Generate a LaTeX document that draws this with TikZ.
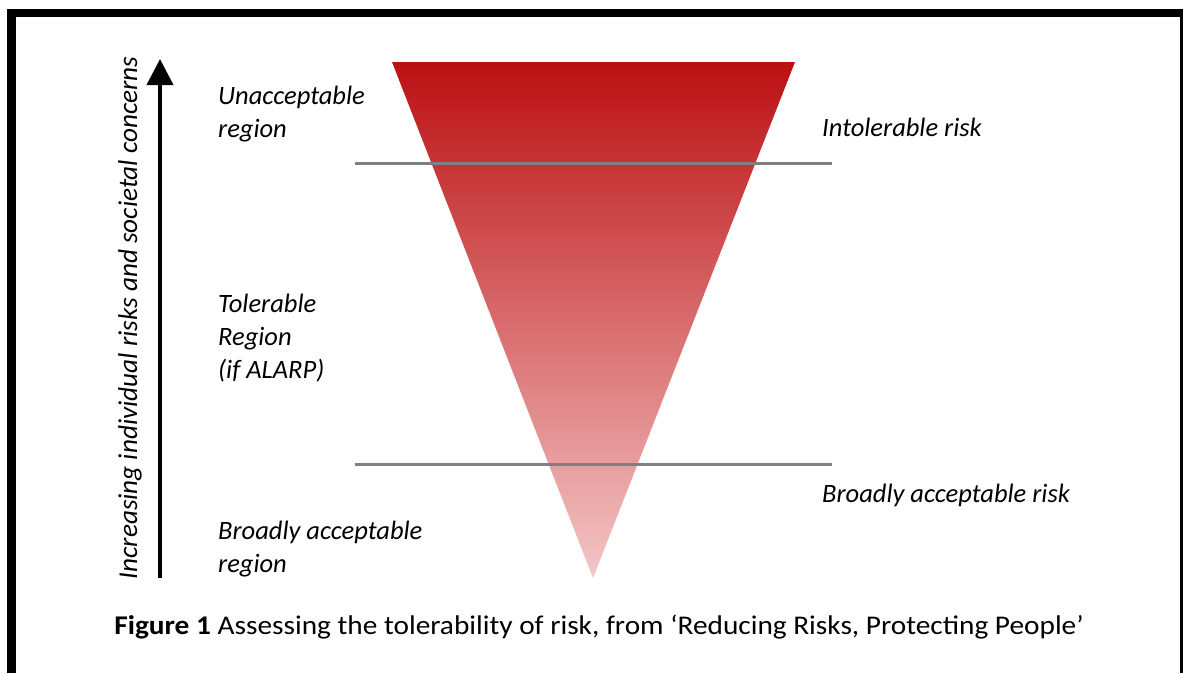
\documentclass[tikz,border=0pt]{standalone}
\usepackage{fontspec}
\setmainfont{Carlito}
\usepackage{tikz}
\usetikzlibrary{positioning}
\usetikzlibrary{shapes,arrows,calc,arrows.meta}

\definecolor{riskdark}{RGB}{188,16,18}
\definecolor{risklight}{RGB}{244,198,199}
\definecolor{bandgray}{RGB}{128,128,128}

\begin{document}
\begin{tikzpicture}[x=1pt, y=-1pt,
    label/.style={inner sep=0pt, align=left, font=\fontsize{26.5}{33}\selectfont\itshape},
    band/.style={draw=bandgray, line width=3pt},
    riskarrow/.style={line width=4pt, -{Triangle[width=26pt,length=26pt]}}]
    % Page and frame
    \fill[white] (0,0) rectangle (1183,673);
    \useasboundingbox (0,0) rectangle (1183,673);
    \fill[black] (7,9) rectangle (1183,17);
    \fill[black] (7,9) rectangle (16,673);
    \fill[black] (1180,9) rectangle (1183,673);
    % Triangle
    \shade[top color=riskdark, bottom color=risklight] (392,62) -- (795,62) -- (593,578) -- cycle;
    % Bands
    \coordinate (upperL) at (355,163);
    \coordinate (upperR) at (832,163);
    \coordinate (lowerL) at (355,464);
    \coordinate (lowerR) at (832,464);
    \draw [band] (upperL) -- (upperR);
    \draw [band] (lowerL) -- (lowerR);
    % Arrow
    \coordinate (arrowfoot) at (160,578);
    \coordinate (arrowtip) at (160,59);
    \draw [riskarrow] (arrowfoot) -- (arrowtip);
    \node [label, font=\fontsize{27.2}{33}\selectfont\itshape, rotate=90, anchor=base] (axis) at (137,318)
        {Increasing individual risks and societal concerns};
    % Labels (base = last line)
    \node [label, anchor=base west] (unacc) at (218,137) {Unacceptable\\region};
    \node [label, anchor=base west] (toler) at (218,378) {Tolerable\\Region\\(if ALARP)};
    \node [label, anchor=base west] (broad) at (218,572) {Broadly acceptable\\region};
    \node [label, anchor=base west] (intol) at (822,136) {Intolerable risk};
    \node [label, anchor=base west] (accept) at (822,502) {Broadly acceptable risk};
    % Caption
    \node [inner sep=0pt, anchor=base, font=\fontsize{27}{33}\selectfont] (caption) at (599,634)
        {\scalebox{1.086}[1]{\textbf{Figure 1} Assessing the tolerability of risk, from ‘Reducing Risks, Protecting People’}};
\end{tikzpicture}
\end{document}
